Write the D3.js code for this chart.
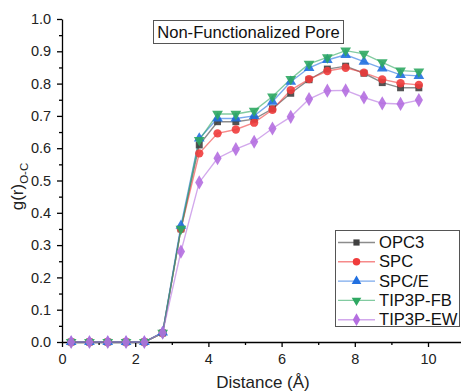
<!DOCTYPE html>
<html>
<head>
<meta charset="utf-8">
<script src="https://cdn.jsdelivr.net/npm/d3@7"></script>
<style>
  body { margin: 0; background: #fff; }
  svg { font-family: "Liberation Sans", Arial, sans-serif; }
</style>
</head>
<body>
<div id="chart"></div>
<script>
const distance = [0.25, 0.75, 1.25, 1.75, 2.25, 2.75, 3.25, 3.75, 4.25, 4.75,
                  5.25, 5.75, 6.25, 6.75, 7.25, 7.75, 8.25, 8.75, 9.25, 9.75];
const opc3    = [0, 0, 0, 0, 0, 0.028, 0.350, 0.610, 0.682, 0.682, 0.690, 0.722, 0.770, 0.812, 0.845, 0.854, 0.832, 0.803, 0.787, 0.787];
const spc     = [0, 0, 0, 0, 0, 0.028, 0.350, 0.584, 0.646, 0.658, 0.679, 0.719, 0.780, 0.814, 0.839, 0.849, 0.834, 0.813, 0.801, 0.796];
const spcE    = [0, 0, 0, 0, 0, 0.030, 0.360, 0.630, 0.692, 0.692, 0.700, 0.744, 0.806, 0.849, 0.873, 0.889, 0.868, 0.847, 0.827, 0.824];
const tip3pFB = [0, 0, 0, 0, 0, 0.028, 0.350, 0.625, 0.706, 0.706, 0.716, 0.760, 0.814, 0.861, 0.881, 0.902, 0.892, 0.866, 0.840, 0.837];
const tip3pEW = [0, 0, 0, 0, 0, 0.029, 0.280, 0.494, 0.569, 0.597, 0.620, 0.661, 0.697, 0.752, 0.778, 0.779, 0.757, 0.739, 0.737, 0.749];

const seriesNames = ["OPC3", "SPC", "SPC/E", "TIP3P-FB", "TIP3P-EW"];
const seriesValues = [opc3, spc, spcE, tip3pFB, tip3pEW];
const colors = ["#404040", "#f03c3c", "#2170e0", "#2ea862", "#b46ee0"];
const symbols = [d3.symbolSquare, d3.symbolCircle, d3.symbolTriangle, d3.symbolTriangle, d3.symbolDiamond];
const rotations = [0, 0, 0, 180, 0];
const symbolSizes = [48, 55, 50, 50, 58];

const xTicks = [0, 2, 4, 6, 8, 10];
const yTicks = [0, 0.1, 0.2, 0.3, 0.4, 0.5, 0.6, 0.7, 0.8, 0.9, 1.0];

const width = 461, height = 391;
const svg = d3.select("#chart").append("svg")
    .attr("width", width)
    .attr("height", height);

const x = d3.scaleLinear().domain([0, 11]).range([62, 464.6]);
const y = d3.scaleLinear().domain([0, 1]).range([342, 19]);

// axes
const xAxis = svg.append("g")
    .attr("transform", `translate(0,${y(0)})`)
    .call(d3.axisBottom(x).tickValues(xTicks).tickFormat(d3.format("d")).tickSize(5).tickSizeOuter(0));
svg.append("g")
    .attr("transform", `translate(0,${y(0)})`)
    .call(d3.axisBottom(x).tickValues([1, 3, 5, 7, 9]).tickFormat("").tickSize(3).tickSizeOuter(0))
    .call(g => g.select(".domain").remove());

const yAxis = svg.append("g")
    .attr("transform", `translate(${x(0)},0)`)
    .call(d3.axisLeft(y).tickValues(yTicks).tickFormat(d3.format(".1f")).tickSize(5).tickSizeOuter(0));
svg.append("g")
    .attr("transform", `translate(${x(0)},0)`)
    .call(d3.axisLeft(y).tickValues(d3.range(0.05, 1, 0.1)).tickFormat("").tickSize(3).tickSizeOuter(0))
    .call(g => g.select(".domain").remove());

svg.selectAll(".tick line, .domain").attr("stroke", "#000").attr("stroke-width", 1.3);
xAxis.selectAll("text").attr("font-size", 14.5).attr("fill", "#222").attr("dy", "0.95em");
yAxis.selectAll("text").attr("font-size", 14.5).attr("fill", "#222").attr("dx", "-0.2em");

// axis titles
svg.append("text")
    .attr("x", 263).attr("y", 388)
    .attr("text-anchor", "middle")
    .attr("font-size", 17).attr("fill", "#222")
    .text("Distance (Å)");

const yl = svg.append("text")
    .attr("transform", `translate(23,${(y(0) + y(1)) / 2 + 6}) rotate(-90)`)
    .attr("text-anchor", "middle")
    .attr("font-size", 17).attr("fill", "#222");
yl.append("tspan").text("g(r)");
yl.append("tspan").attr("font-size", 11.5).attr("dy", 5).text("O-C");

// series
const line = d3.line()
    .x((d, i) => x(distance[i]))
    .y(d => y(d));

seriesValues.forEach((vals, k) => {
  svg.append("path")
      .datum(vals)
      .attr("fill", "none")
      .attr("stroke", colors[k])
      .attr("stroke-opacity", 0.6)
      .attr("stroke-width", 1.4)
      .attr("d", line);
});
seriesValues.forEach((vals, k) => {
  svg.append("g").selectAll("path")
    .data(vals)
    .join("path")
      .attr("transform", (d, i) => `translate(${x(distance[i])},${y(d)}) rotate(${rotations[k]})`)
      .attr("d", d3.symbol(symbols[k], symbolSizes[k]))
      .attr("fill", colors[k])
      .attr("fill-opacity", 0.9);
});

// title box
const title = svg.append("g");
title.append("rect")
    .attr("x", 153.5).attr("y", 20.5).attr("width", 190).attr("height", 23)
    .attr("fill", "#fff").attr("stroke", "#555");
title.append("text")
    .attr("x", 248.5).attr("y", 38)
    .attr("text-anchor", "middle")
    .attr("font-size", 16.6).attr("fill", "#111")
    .text("Non-Functionalized Pore");

// legend
const legend = svg.append("g");
legend.append("rect")
    .attr("x", 335.5).attr("y", 230.5).attr("width", 124).attr("height", 96)
    .attr("fill", "#fff").attr("stroke", "#555");
seriesNames.forEach((name, k) => {
  const ly = 242.5 + k * 19.3;
  legend.append("line")
      .attr("x1", 338).attr("x2", 375).attr("y1", ly).attr("y2", ly)
      .attr("stroke", colors[k]).attr("stroke-opacity", 0.6).attr("stroke-width", 1.4);
  legend.append("path")
      .attr("transform", `translate(356.5,${ly}) rotate(${rotations[k]})`)
      .attr("d", d3.symbol(symbols[k], symbolSizes[k] * 0.8))
      .attr("fill", colors[k]);
  legend.append("text")
      .attr("x", 379).attr("y", ly + 5.5)
      .attr("font-size", 16.6).attr("fill", "#111")
      .text(name);
});
</script>
</body>
</html>
